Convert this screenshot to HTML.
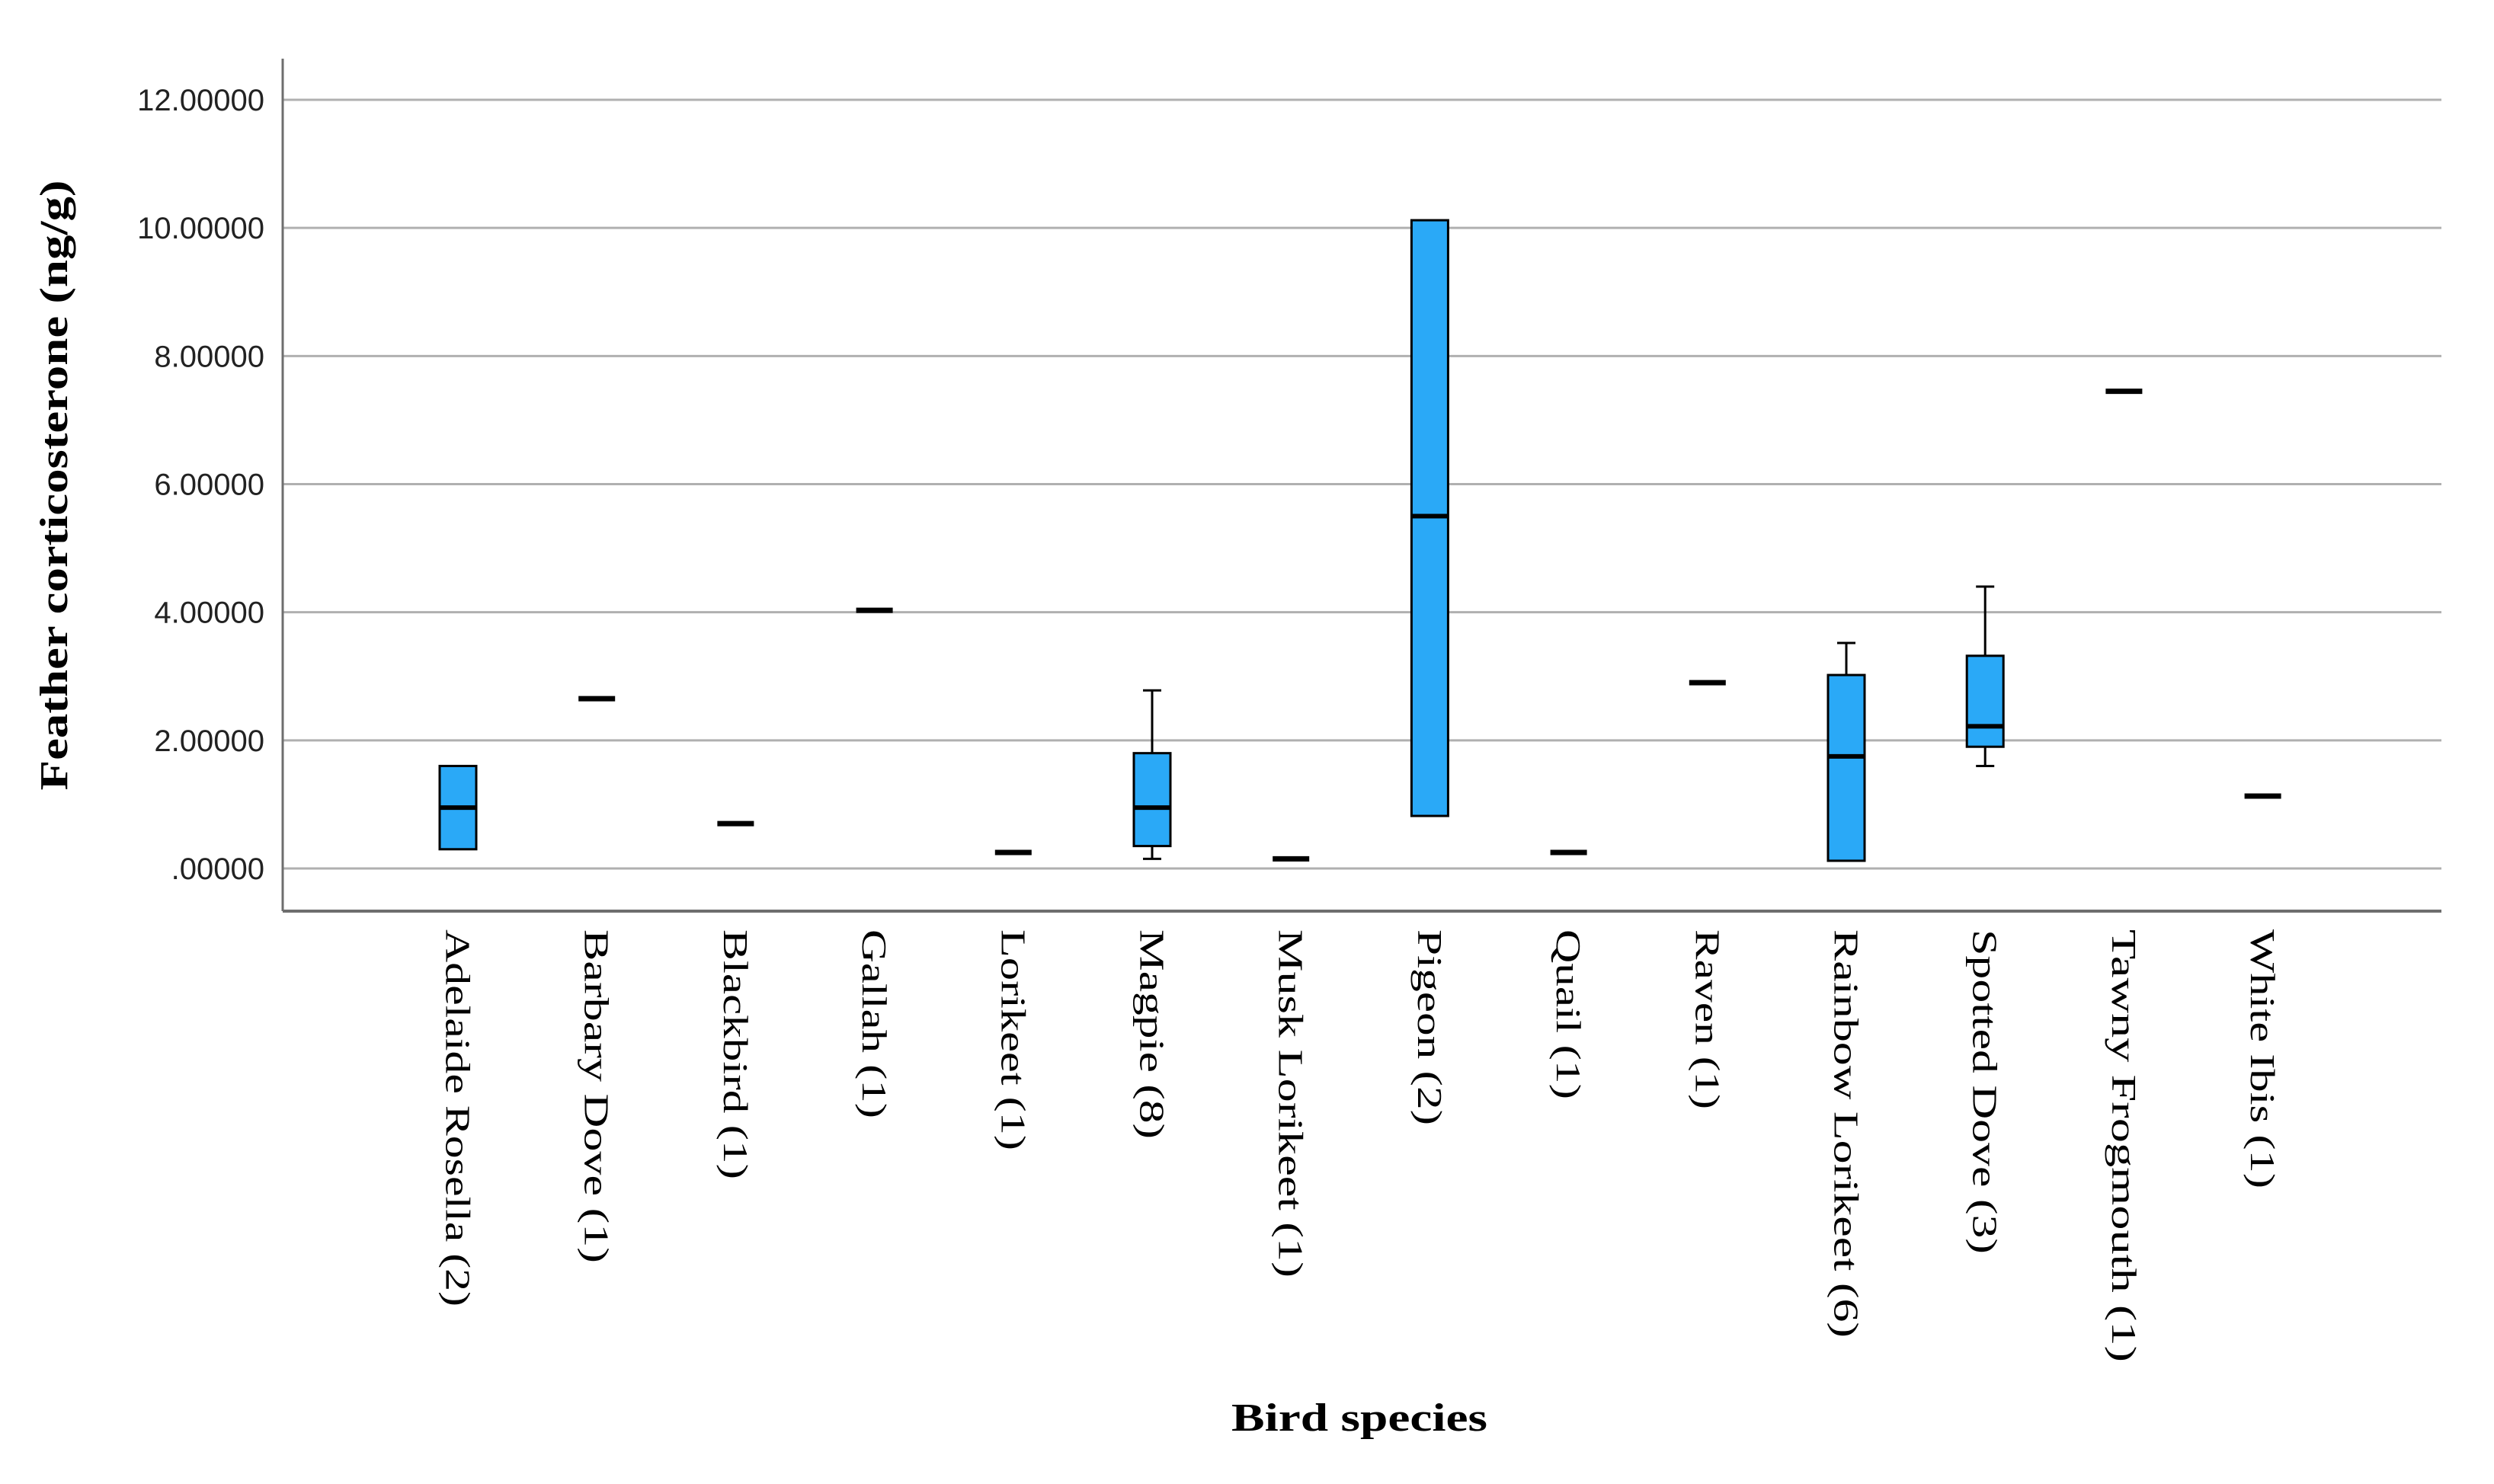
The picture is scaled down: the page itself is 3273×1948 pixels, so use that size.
<!DOCTYPE html>
<html><head><meta charset="utf-8"><style>
html,body{margin:0;padding:0;background:#fff;}
svg{display:block;}
</style></head><body>
<svg id="chart" width="3273" height="1948" viewBox="0 0 3273 1948" xmlns="http://www.w3.org/2000/svg">
<rect x="0" y="0" width="3273" height="1948" fill="#fff"/>
<g id="grid"></g>
<g id="yticks"></g>
<g id="marks"></g>
<g id="xlabels"></g>
<line x1="371" y1="77" x2="371" y2="1196" stroke="#6e6e6e" stroke-width="3"/>
<line x1="371" y1="1196" x2="3204" y2="1196" stroke="#6e6e6e" stroke-width="4"/>
<text x="0" y="0" transform="translate(88,637) rotate(-90)" text-anchor="middle" font-family="Liberation Serif, serif" font-weight="bold" font-size="52" textLength="801" lengthAdjust="spacingAndGlyphs" fill="#000">Feather corticosterone (ng/g)</text>
<text x="1784" y="1878" text-anchor="middle" font-family="Liberation Serif, serif" font-weight="bold" font-size="52" textLength="336" lengthAdjust="spacingAndGlyphs" fill="#000">Bird species</text>
</svg>
<script>
const categories = ["Adelaide Rosella (2)","Barbary Dove (1)","Blackbird (1)","Gallah (1)","Lorikeet (1)","Magpie (8)","Musk Lorikeet (1)","Pigeon (2)","Quail (1)","Raven (1)","Rainbow Lorikeet (6)","Spotted Dove (3)","Tawny Frogmouth (1)","White Ibis (1)"];
const mins    = [0.30, 2.65, 0.70, 4.03, 0.25, 0.15, 0.15, 0.82, 0.25, 2.90, 0.12, 1.60, 7.45, 1.13];
const q1s     = [0.30, 2.65, 0.70, 4.03, 0.25, 0.35, 0.15, 0.82, 0.25, 2.90, 0.12, 1.90, 7.45, 1.13];
const medians = [0.95, 2.65, 0.70, 4.03, 0.25, 0.95, 0.15, 5.50, 0.25, 2.90, 1.75, 2.22, 7.45, 1.13];
const q3s     = [1.60, 2.65, 0.70, 4.03, 0.25, 1.80, 0.15, 10.12, 0.25, 2.90, 3.02, 3.32, 7.45, 1.13];
const maxs    = [1.60, 2.65, 0.70, 4.03, 0.25, 2.78, 0.15, 10.12, 0.25, 2.90, 3.52, 4.40, 7.45, 1.13];
const yTicks = [0,2,4,6,8,10,12];
const yTickLabels = [".00000","2.00000","4.00000","6.00000","8.00000","10.00000","12.00000"];
const labelLengths = [495,438,328,248,290,275,457,257,223,236,536,426,568,340];

const NS="http://www.w3.org/2000/svg";
const y = v => 1140 - v*(1140-131)/12;
const x = i => 601 + i*182.2;
function mk(parent,tag,attrs){const e=document.createElementNS(NS,tag);for(const k in attrs)e.setAttribute(k,attrs[k]);document.getElementById(parent).appendChild(e);return e;}

yTicks.forEach((t,i)=>{
  const g=mk('grid','line',{x1:371,x2:3204,y1:y(t),y2:y(t),stroke:'#b0b0b0','stroke-width':3});
  
  
  const tx=mk('yticks','text',{x:347,y:y(t)+14,'text-anchor':'end','font-family':'Liberation Sans, sans-serif','font-size':40,fill:'#222'});
  tx.textContent=yTickLabels[i];
  
  
});

categories.forEach((c,i)=>{
  const cx=x(i), w=48;
  const single = q1s[i]===q3s[i];
  if(single){
    const l=mk('marks','line',{x1:cx-24,x2:cx+24,y1:y(medians[i]),y2:y(medians[i]),stroke:'#000','stroke-width':7});
    
    
  } else {
    if(maxs[i]>q3s[i]){
      const wl=mk('marks','line',{x1:cx,x2:cx,y1:y(maxs[i]),y2:y(q3s[i]),stroke:'#000','stroke-width':3});
      
      
      const cp=mk('marks','line',{x1:cx-12,x2:cx+12,y1:y(maxs[i]),y2:y(maxs[i]),stroke:'#000','stroke-width':3});
      
      
    }
    if(mins[i]<q1s[i]){
      const wl=mk('marks','line',{x1:cx,x2:cx,y1:y(q1s[i]),y2:y(mins[i]),stroke:'#000','stroke-width':3});
      
      
      const cp=mk('marks','line',{x1:cx-12,x2:cx+12,y1:y(mins[i]),y2:y(mins[i]),stroke:'#000','stroke-width':3});
      
      
    }
    const b=mk('marks','rect',{x:cx-w/2,y:y(q3s[i]),width:w,height:y(q1s[i])-y(q3s[i]),fill:'#2aa9f7',stroke:'#000','stroke-width':3});
    
    
    const m=mk('marks','line',{x1:cx-w/2,x2:cx+w/2,y1:y(medians[i]),y2:y(medians[i]),stroke:'#000','stroke-width':6});
    
    
  }
  const t=mk('xlabels','text',{x:0,y:0,transform:`translate(${cx},1220) rotate(90)`,'dominant-baseline':'central','font-family':'Liberation Serif, serif','font-size':46,fill:'#000',textLength:labelLengths[i],lengthAdjust:'spacingAndGlyphs'});
  t.textContent=c;
  
  
});
</script>
</body></html>
